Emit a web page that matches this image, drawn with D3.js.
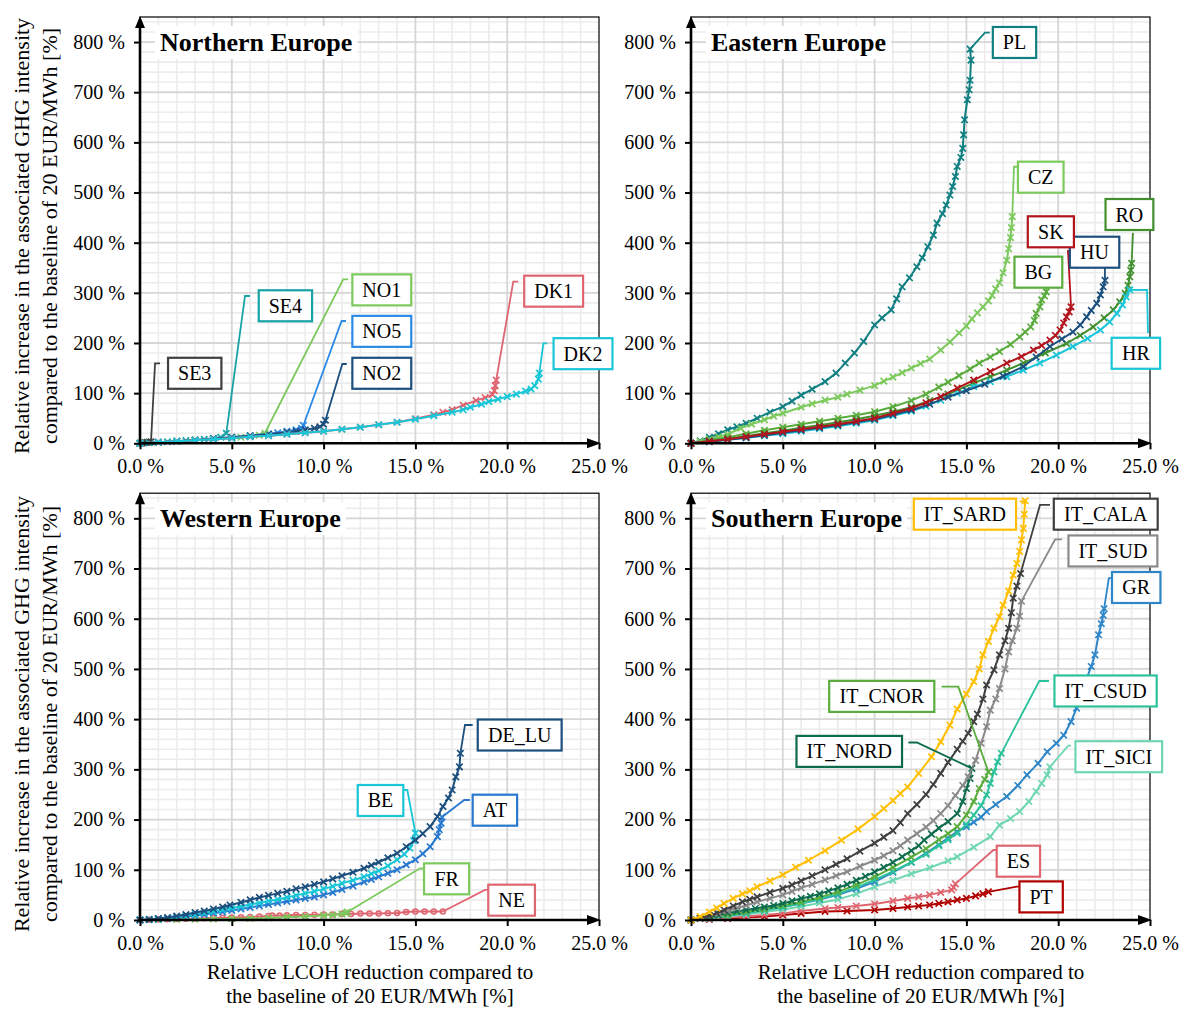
<!DOCTYPE html>
<html>
<head>
<meta charset="utf-8">
<script src="https://cdn.jsdelivr.net/npm/d3@7"></script>
<style>
  body { margin: 0; background: #fff; }
  svg { display: block; }
  text { font-family: "Liberation Serif", "Times New Roman", serif; fill: #000; }
</style>
</head>
<body>
<svg id="chart" width="1183" height="1010"></svg>
<script>
// ---------- axis ticks ----------
const xTicks = [0, 5, 10, 15, 20, 25];
const xTickLabels = ["0.0 %", "5.0 %", "10.0 %", "15.0 %", "20.0 %", "25.0 %"];
const yTicks = [0, 100, 200, 300, 400, 500, 600, 700, 800];
const yTickLabels = ["0 %", "100 %", "200 %", "300 %", "400 %", "500 %", "600 %", "700 %", "800 %"];

// ---------- Northern Europe: [LCOH reduction %, GHG increase %] ----------
const SE3 = [[0,0],[0.1,0.5],[0.2,1],[0.3,1.5],[0.4,2],[0.5,2.5],[0.6,3]];
const SE4 = [[0,0],[0.5,1],[1,2],[1.5,3],[2,4],[2.5,5.5],[3,7],[3.5,8],[4,10],[4.4,12],[4.7,20]];
const NO1 = [[0,0],[1,2],[2,4],[3,6],[4,8],[5,11],[5.5,12],[6,14],[6.5,16],[6.8,20]];
const NO5 = [[0,0],[1,2],[2,4],[3,6],[4,9],[5,12],[6,15],[7,19],[7.5,21],[8,24],[8.5,27],[8.8,30],[8.9,36]];
const NO2 = [[0,0],[1,2],[2,4],[3,6],[4,9],[5,12],[6,15],[7,18],[8,22],[8.5,24],[9,27],[9.5,30],[9.8,33],[10,38],[10.1,46]];
const DK1 = [[0,0],[1,2],[2,4],[3,6],[4,8],[5,10],[6,13],[7,15],[8,18],[9,21],[10,24],[11,28],[12,32],[13,37],[14,42],[15,49],[16,57],[16.5,62],[17,67],[17.6,76],[18.3,85],[18.8,91],[19.2,97],[19.3,105],[19.35,115],[19.4,126]];
const DK2 = [[0,0],[1,2],[2,4],[3,6],[4,8],[5,10],[6,13],[7,15],[8,18],[9,21],[10,24],[11,28],[12,32],[13,37],[14,42],[15,48],[16,55],[17,62],[17.6,67],[18,72],[18.6,78],[19,83],[19.5,88],[20,93],[20.5,98],[21,104],[21.3,108],[21.5,115],[21.7,128],[21.75,140]];

// ---------- Eastern Europe ----------
const PL = [[0,0],[0.5,5],[1,12],[1.5,19],[2,27],[2.5,33],[3,40],[3.6,50],[4.3,62],[5,73],[5.5,84],[6,96],[6.6,108],[7.3,123],[7.9,140],[8.4,160],[8.9,180],[9.4,203],[10,236],[10.4,250],[10.9,266],[11.2,288],[11.5,312],[11.9,330],[12.3,352],[12.6,370],[12.9,392],[13.2,415],[13.4,439],[13.7,458],[13.9,475],[14.1,495],[14.25,512],[14.4,532],[14.5,552],[14.7,570],[14.8,588],[14.85,615],[14.9,645],[15.05,685],[15.15,705],[15.2,724],[15.25,764],[15.2,786]];
const CZ = [[0,0],[0.5,4],[1,8],[1.5,13],[2,18],[2.7,30],[3.3,38],[4,47],[4.5,54],[5,60],[6,72],[6.6,79],[7.3,86],[8,92],[8.5,98],[9.2,106],[10,115],[10.5,124],[11,132],[11.5,141],[12,150],[12.5,159],[13,168],[13.6,186],[14.1,202],[14.6,220],[15,234],[15.3,248],[15.6,260],[15.9,272],[16.2,284],[16.4,295],[16.6,308],[16.8,320],[17,340],[17.2,365],[17.3,388],[17.4,410],[17.45,430],[17.5,452]];
const BG = [[0,0],[1,6],[2,12],[3,19],[4,26],[5,32],[6,38],[7,44],[8,50],[9,56],[10,63],[11,73],[12,85],[12.8,98],[13.5,112],[14,122],[14.6,135],[15.2,148],[15.7,160],[16.3,172],[16.8,183],[17.4,197],[17.9,212],[18.2,222],[18.5,232],[18.7,245],[18.8,259],[19,272],[19.1,286],[19.25,294],[19.35,302]];
const SK = [[0,0],[1,4],[2,8],[3,13],[4,18],[5,23],[6,28],[7,33],[8,38],[9,44],[10,50],[11,60],[12,70],[12.8,81],[13.6,93],[14.5,110],[15.4,126],[16.3,143],[17.2,160],[18,173],[18.65,186],[19.1,195],[19.55,206],[19.85,215],[20.1,226],[20.3,240],[20.45,252],[20.6,262],[20.7,272]];
const HU = [[0,0],[1,3],[2,7],[3,11],[4,16],[5,21],[6,26],[7,31],[8,36],[9,42],[10,48],[11,57],[12,66],[13,78],[14,92],[15,105],[16,118],[17,134],[18.1,153],[18.8,172],[19.55,193],[20.2,208],[20.8,222],[21.2,236],[21.55,252],[21.8,265],[22.1,279],[22.3,296],[22.45,312],[22.55,325]];
const RO = [[0,0],[1,4],[2,9],[3,14],[4,20],[5,25],[6,31],[7,36],[8,42],[9,48],[10,55],[11,63],[12,72],[13,85],[14,98],[15.4,120],[16.3,133],[17.2,146],[18.1,160],[19.3,180],[20.45,199],[21.2,215],[21.9,232],[22.5,250],[23,266],[23.35,282],[23.65,299],[23.8,315],[23.9,332],[23.95,345],[24,359]];
const HR = [[0,0],[1,3],[2,7],[3,11],[4,15],[5,19],[6,24],[7,29],[8,34],[9,40],[10,46],[11,55],[12,64],[12.8,74],[13.6,86],[14.5,100],[15.4,113],[16.3,123],[17.2,133],[18.1,146],[19,160],[19.9,176],[20.8,193],[21.6,209],[22.3,226],[22.8,242],[23.2,259],[23.5,276],[23.7,292],[23.9,306]];

// ---------- Western Europe ----------
const DE_LU = [[0,0],[0.5,1],[1,3],[1.5,5],[2,8],[2.5,11],[3,15],[3.5,18],[4,22],[4.5,26],[4.9,30],[5.5,35],[6,40],[6.5,45],[7,49],[7.5,53],[8,57],[8.5,62],[9,66],[9.5,71],[10,76],[10.5,82],[11,88],[11.6,95],[12.2,103],[12.6,109],[13,115],[13.5,124],[14,133],[14.5,146],[15,159],[15.4,172],[15.8,186],[16.2,206],[16.5,226],[16.8,243],[17,259],[17.2,285],[17.4,305],[17.45,332]];
const BE = [[0,0],[0.5,1],[1,2],[1.5,4],[2,6],[2.5,8],[3,11],[3.5,14],[4,17],[4.5,20],[5,24],[5.5,27],[6,31],[6.5,34],[7,38],[7.5,41],[8,45],[8.5,49],[9,53],[9.5,57],[10,62],[10.5,67],[11,73],[11.6,79],[12.2,86],[12.6,92],[13,98],[13.5,108],[14,120],[14.4,131],[14.7,143],[14.9,158],[15,173]];
const AT = [[0,0],[0.5,1],[1,2],[1.5,3],[2,5],[2.5,7],[3,9],[3.5,11],[4,14],[4.5,16],[5,19],[5.5,22],[6,25],[6.5,28],[7,31],[7.5,34],[8,37],[8.5,40],[9,43],[9.5,46],[10,50],[10.5,55],[11,61],[11.6,68],[12.2,76],[12.6,81],[13,86],[13.5,93],[14,100],[14.5,110],[15,120],[15.4,132],[15.8,146],[16.2,166],[16.3,180],[16.4,193],[16.45,205]];
const FR = [[0,0],[1,0.5],[2,1],[3,1.5],[4,2],[5,2.5],[6,3],[7,4],[8,6],[9,7],[10,9],[10.5,10],[11,12],[11.2,14],[11.3,16]];
const NE = [[0,0],[0.5,0.5],[1,1],[1.5,1.5],[2,2],[2.5,2.5],[3,3],[3.5,3.5],[4,4],[4.5,4.5],[5,5],[5.5,5.5],[6,6],[6.5,7],[7,8],[7.2,9],[7.6,9],[8,9.5],[8.5,10],[9,10],[9.5,10.5],[10,11],[10.5,11],[11,12],[11.5,12],[12,13],[12.5,13],[13,13],[13.5,13.5],[14,14],[14.5,16],[15,17],[15.5,17],[16,17],[16.5,17]];

// ---------- Southern Europe ----------
const IT_SARD = [[0,0],[0.5,7],[1,16],[1.4,24],[1.8,33],[2.3,43],[2.8,52],[3.2,58],[3.6,66],[4.3,78],[5,90],[5.7,105],[6.4,119],[7.3,138],[8.2,159],[9.1,181],[10,206],[10.5,222],[11,238],[11.4,252],[11.8,265],[12.4,292],[13.1,325],[13.6,355],[14.1,388],[14.5,420],[15,450],[15.4,475],[15.7,500],[15.9,528],[16.2,555],[16.5,581],[16.8,604],[17,627],[17.3,655],[17.55,687],[17.75,710],[17.9,734],[18,757],[18.1,780],[18.15,808],[18.2,835]];
const IT_CALA = [[0,0],[0.5,4],[1,9],[1.4,14],[1.8,20],[2.3,28],[2.8,36],[3.2,41],[3.6,46],[4.3,55],[5,63],[5.5,70],[6,78],[6.6,88],[7.3,100],[7.9,111],[8.5,122],[9.2,137],[10,153],[10.5,165],[11,178],[11.4,194],[11.8,212],[12.3,230],[12.8,250],[13.2,270],[13.6,292],[14,314],[14.5,340],[14.8,356],[15.1,372],[15.4,395],[15.6,410],[15.9,440],[16.1,468],[16.5,498],[16.8,528],[17.1,556],[17.3,581],[17.45,612],[17.55,641],[17.75,665],[17.95,690]];
const IT_SUD = [[0,0],[0.5,3],[1,8],[1.5,13],[2,18],[2.5,24],[3,29],[3.6,36],[4.3,43],[5,50],[5.5,57],[6,64],[6.6,71],[7.3,80],[7.9,88],[8.5,96],[9.2,107],[10,119],[10.5,128],[11,138],[11.4,148],[11.8,159],[12.3,172],[12.8,185],[13.2,198],[13.6,212],[14,228],[14.4,248],[14.8,268],[15.1,285],[15.5,318],[15.8,352],[16.1,385],[16.3,418],[16.6,440],[16.8,461],[17.1,500],[17.3,534],[17.5,556],[17.75,581],[17.9,605],[18,635]];
const IT_NORD = [[0,0],[0.5,3],[1,6],[1.5,10],[2,14],[2.5,17],[3,20],[3.5,23],[4,26],[4.5,29],[5,33],[5.5,38],[6,43],[6.5,47],[7,52],[7.5,58],[8,64],[8.5,71],[9,79],[9.5,87],[10,96],[10.5,105],[11,115],[11.5,126],[12,138],[12.4,148],[12.7,159],[13.1,171],[13.5,183],[14,196],[14.5,212],[14.8,236],[15,262],[15.2,282],[15.3,302]];
const IT_CNOR = [[0,0],[1,5],[2,10],[3,16],[4,22],[5,29],[6,36],[7,45],[8,56],[9,70],[10,86],[11,105],[12,125],[12.8,142],[13.5,160],[14,172],[14.5,186],[15,209],[15.4,236],[15.7,262],[16,280],[16.2,295]];
const IT_CSUD = [[0,0],[1,4],[2,9],[3,14],[4,20],[5,26],[6,33],[7,42],[8,52],[9,65],[10,80],[11,97],[12,115],[12.8,131],[13.5,148],[14,160],[14.5,173],[15,190],[15.4,209],[15.8,228],[16.1,249],[16.3,272],[16.5,295],[16.7,315],[16.9,332]];
const GR = [[0,0],[1,4],[2,9],[3,14],[4,20],[5,26],[6,33],[7,41],[8,50],[9,62],[10,76],[11,95],[12,115],[12.8,133],[13.5,150],[14,163],[14.5,176],[15,186],[15.4,195],[15.8,205],[16.1,216],[16.6,230],[17.2,246],[17.8,268],[18.3,289],[18.9,312],[19.4,335],[19.9,352],[20.3,368],[20.7,395],[21,422],[21.3,450],[21.55,481],[21.8,505],[22,528],[22.2,568],[22.35,590],[22.45,607],[22.5,620]];
const IT_SICI = [[0,0],[1,3],[2,7],[3,11],[4,16],[5,21],[6,27],[7,34],[8,41],[9,52],[10,66],[11,79],[12,92],[13,104],[14,118],[14.5,126],[15.4,145],[16.3,166],[16.8,189],[17.4,202],[17.9,216],[18.4,236],[18.8,256],[19.1,272],[19.4,289],[19.55,305]];
const ES = [[0,0],[1,2],[2,5],[3,7],[4,10],[5,13],[6,18],[7.3,23],[8,25],[9,28],[10,32],[11,38],[11.8,43],[12.4,46],[13,50],[13.6,55],[14.2,60],[14.3,65],[14.4,72]];
const PT = [[0,0],[1,1],[2,3],[3,5],[4,7],[5,10],[6,13],[7.3,17],[8.5,18],[10,20],[11,23],[11.8,26],[12.4,28],[13,30],[13.5,33],[14,36],[14.5,40],[15,43],[15.5,48],[15.9,52],[16.2,56]];

// ---------- colours ----------
const colors = {
  SE3: "#3f3f3f", SE4: "#17a3a6", NO1: "#7cc95c", NO5: "#2b8ae6", NO2: "#1c4f7d",
  DK1: "#df6570", DK2: "#18c6d8",
  PL: "#0f7f82", CZ: "#7cc95c", SK: "#b3141c", HU: "#1c4f7d", BG: "#5aac3c", RO: "#418f2e", HR: "#18c6d8",
  DE_LU: "#1c4f7d", BE: "#18c6d8", AT: "#2878cf", FR: "#7cc95c", NE: "#df6570",
  IT_SARD: "#ffbf00", IT_CALA: "#3f3f3f", IT_SUD: "#8a8a8a", IT_NORD: "#0d6b4e", IT_CNOR: "#5aac3c",
  IT_CSUD: "#2cc29c", GR: "#2e86c8", IT_SICI: "#6fd7b0", ES: "#df6570", PT: "#b00000"
};

// ---------- label callouts: box centre and leader bends in data units ----------
const callouts = {
  SE3: { box: [2.98, 139.6], bend: [[0.82, 159.5], [1.09, 159.5]] },
  SE4: { box: [7.92, 274.2], bend: [[5.72, 293.7], [5.99, 293.7]] },
  NO1: { box: [13.17, 305.9], bend: [[11.07, 327], [11.34, 327]] },
  NO5: { box: [13.17, 223.2], bend: [[10.98, 243.9], [11.22, 243.9]] },
  NO2: { box: [13.17, 139.6], bend: [[11.02, 158.1], [11.26, 158.1]] },
  DK1: { box: [22.53, 303.3], bend: [[20.33, 322.2], [20.6, 322.2]] },
  DK2: { box: [24.13, 178.7], bend: [[21.97, 199.4], [22.18, 199.4]] },
  PL:  { box: [17.62, 799.2], bend: [[16.01, 818.7], [16.27, 818.7]] },
  CZ:  { box: [19.05, 530.6], bend: [[17.59, 551.4], [17.81, 551.4]] },
  BG:  { box: [18.92, 341.2], bend: [[19.36, 309.7]] },
  SK:  { box: [19.6, 421.7], bend: [[20.53, 385.6]] },
  HU:  { box: [21.98, 381], bend: [[22.54, 350]] },
  RO:  { box: [23.88, 456.2], bend: [[24.07, 419.6]] },
  HR:  { box: [24.23, 179.5], bend: [[24.84, 305.7], [24.89, 219.9]] },
  DE_LU: { box: [20.68, 368.4], bend: [[17.7, 388.4], [18.12, 388.4]] },
  AT:  { box: [19.33, 218.7], bend: [[17.66, 239], [17.97, 239]] },
  BE:  { box: [13.1, 238], bend: [[14.56, 258.9], [14.38, 258.9]] },
  FR:  { box: [16.7, 82], bend: [[15.25, 103], [15.52, 103]] },
  NE:  { box: [20.24, 39.5], bend: [[18.79, 59.8], [19.06, 59.8]] },
  IT_SARD: { box: [14.92, 808.2], bend: [[17.9, 833]] },
  IT_CALA: { box: [22.59, 808.2], bend: [[19.01, 826.9], [19.55, 826.9]] },
  IT_SUD:  { box: [22.98, 735], bend: [[19.83, 757.9], [20.21, 757.9]] },
  GR:      { box: [24.25, 662.2], bend: [[22.76, 680.7], [22.98, 680.7]] },
  IT_CSUD: { box: [22.58, 456.1], bend: [[18.97, 476], [19.5, 476]] },
  IT_CNOR: { box: [10.39, 445.3], bend: [[14.56, 464.8], [13.65, 464.8]] },
  IT_NORD: { box: [8.62, 335.8], bend: [[12.3, 353.5], [11.84, 353.5]] },
  IT_SICI: { box: [23.3, 325.2], bend: [[20.55, 347.3], [20.7, 347.3]] },
  ES:      { box: [17.83, 117.1], bend: [[16.47, 139.4], [16.67, 139.4]] },
  PT:      { box: [19.07, 46], bend: [[17.74, 66.3], [17.9, 66.3]] }
};

const panels = [
  { title: "Northern Europe", left: 140, right: 599, top: 17, bottom: 443.3,
    series: { SE3, SE4, NO1, NO5, NO2, DK1, DK2 } },
  { title: "Eastern Europe", left: 691, right: 1150, top: 17, bottom: 443.3,
    series: { PL, CZ, BG, RO, HR, HU, SK } },
  { title: "Western Europe", left: 140, right: 599, top: 493.2, bottom: 920,
    series: { NE, FR, AT, BE, DE_LU } },
  { title: "Southern Europe", left: 691, right: 1150, top: 493.2, bottom: 920,
    series: { PT, ES, IT_SICI, GR, IT_CSUD, IT_CNOR, IT_NORD, IT_SUD, IT_CALA, IT_SARD } }
];

const svg = d3.select("#chart");
const X_MAX = 25, Y_MAX = 850;

function drawPanel(p) {
  const g = svg.append("g");
  const x = d3.scaleLinear().domain([0, X_MAX]).range([p.left, p.right]);
  const y = d3.scaleLinear().domain([0, Y_MAX]).range([p.bottom, p.top]);

  // minor grid
  const grid = g.append("g");
  d3.range(1, X_MAX, 1).filter(v => v % 5 !== 0).forEach(v => {
    grid.append("line").attr("x1", x(v)).attr("x2", x(v)).attr("y1", y(0)).attr("y2", y(Y_MAX))
      .attr("stroke", "#ececec").attr("stroke-width", 1.6);
  });
  d3.range(20, Y_MAX, 20).filter(v => v % 100 !== 0).forEach(v => {
    grid.append("line").attr("x1", x(0)).attr("x2", x(X_MAX)).attr("y1", y(v)).attr("y2", y(v))
      .attr("stroke", "#ececec").attr("stroke-width", 1.6);
  });
  // major grid
  xTicks.slice(1, -1).forEach(v => {
    grid.append("line").attr("x1", x(v)).attr("x2", x(v)).attr("y1", y(0)).attr("y2", y(Y_MAX))
      .attr("stroke", "#d6d6d6").attr("stroke-width", 1.8);
  });
  yTicks.slice(1).forEach(v => {
    grid.append("line").attr("x1", x(0)).attr("x2", x(X_MAX)).attr("y1", y(v)).attr("y2", y(v))
      .attr("stroke", "#d6d6d6").attr("stroke-width", 1.8);
  });

  // plot frame
  g.append("rect").attr("x", x(0)).attr("y", y(Y_MAX))
    .attr("width", x(X_MAX) - x(0)).attr("height", y(0) - y(Y_MAX))
    .attr("fill", "none").attr("stroke", "#000").attr("stroke-width", 1.2);

  // series
  const line = d3.line().x(d => x(d[0])).y(d => y(d[1]));
  Object.entries(p.series).forEach(([name, data]) => {
    const c = colors[name];
    const sg = g.append("g");
    sg.append("path").attr("d", line(data)).attr("fill", "none")
      .attr("stroke", c).attr("stroke-width", 2).attr("stroke-linejoin", "round");
    if (name === "NE") {
      sg.selectAll("circle").data(data).join("circle")
        .attr("cx", d => x(d[0])).attr("cy", d => y(d[1])).attr("r", 2.5)
        .attr("fill", "none").attr("stroke", c).attr("stroke-width", 1.5);
    } else {
      sg.selectAll("path.m").data(data).join("path").attr("class", "m")
        .attr("transform", d => `translate(${x(d[0])},${y(d[1])})`)
        .attr("d", "M-3.2,-3.2L3.2,3.2M-3.2,3.2L3.2,-3.2")
        .attr("stroke", c).attr("stroke-width", 1.7).attr("fill", "none");
    }
  });

  // axes
  const yAxis = d3.axisLeft(y).tickValues(yTicks).tickSize(6).tickPadding(9)
    .tickFormat((d, i) => yTickLabels[i]);
  const ya = g.append("g").attr("transform", `translate(${x(0)},0)`).call(yAxis);
  ya.select(".domain").remove();
  ya.selectAll(".tick line").attr("stroke", "#000").attr("stroke-width", 2);
  ya.selectAll("text").style("font-family", '"Liberation Serif", serif').style("font-size", "20px").attr("fill", "#000");

  const xAxis = d3.axisBottom(x).tickValues(xTicks).tickSize(6).tickPadding(10)
    .tickFormat((d, i) => xTickLabels[i]);
  const xa = g.append("g").attr("transform", `translate(0,${y(0)})`).call(xAxis);
  xa.select(".domain").remove();
  xa.selectAll(".tick line").attr("stroke", "#000").attr("stroke-width", 2);
  xa.selectAll("text").style("font-family", '"Liberation Serif", serif').style("font-size", "20px").attr("fill", "#000");

  // axis lines with arrows
  g.append("line").attr("x1", x(0)).attr("x2", x(0)).attr("y1", y(0) + 1).attr("y2", y(Y_MAX) + 6)
    .attr("stroke", "#000").attr("stroke-width", 2.6);
  g.append("path").attr("d", `M${x(0)},${y(Y_MAX) - 1}L${x(0) - 5},${y(Y_MAX) + 11}L${x(0) + 5},${y(Y_MAX) + 11}Z`)
    .attr("fill", "#000");
  g.append("line").attr("x1", x(0) - 1).attr("x2", x(X_MAX) - 6).attr("y1", y(0)).attr("y2", y(0))
    .attr("stroke", "#000").attr("stroke-width", 2.6);
  g.append("path").attr("d", `M${x(X_MAX) + 2},${y(0)}L${x(X_MAX) - 12},${y(0) - 5}L${x(X_MAX) - 12},${y(0) + 5}Z`)
    .attr("fill", "#000");

  // panel title
  const tg = g.append("g");
  const tBox = tg.append("rect").attr("fill", "#fff");
  const tt = tg.append("text").attr("x", x(0) + 20).attr("y", y(Y_MAX) + 34)
    .style("font-size", "26px").style("font-weight", "bold").text(p.title);
  const bb = tt.node().getBBox();
  tBox.attr("x", bb.x - 5).attr("y", bb.y - 2).attr("width", bb.width + 10).attr("height", bb.height + 4);

  // callouts
  Object.keys(p.series).forEach(name => {
    const co = callouts[name];
    if (!co) return;
    const data = p.series[name];
    const c = colors[name];
    const pts = [data[data.length - 1]].concat(co.bend);
    g.append("path").attr("d", d3.line().x(d => x(d[0])).y(d => y(d[1]))(pts))
      .attr("fill", "none").attr("stroke", c).attr("stroke-width", 1.8);
  });
  Object.keys(p.series).forEach(name => {
    const co = callouts[name];
    if (!co) return;
    const c = colors[name];
    const lg = g.append("g");
    const r = lg.append("rect").attr("fill", "#fff").attr("stroke", c).attr("stroke-width", 2.2);
    const t = lg.append("text").attr("x", x(co.box[0])).attr("y", y(co.box[1]) + 7)
      .attr("text-anchor", "middle").style("font-size", "20px").text(name);
    const b = t.node().getBBox();
    const w = b.width + 20, h = 31;
    r.attr("x", x(co.box[0]) - w / 2).attr("y", y(co.box[1]) - h / 2).attr("width", w).attr("height", h);
  });
}

panels.forEach(drawPanel);

// axis titles
function yTitle(cx, cy) {
  const t = svg.append("text").attr("transform", `translate(${cx},${cy}) rotate(-90)`)
    .attr("text-anchor", "middle").style("font-size", "22px");
  t.append("tspan").attr("x", 0).attr("dy", 0).text("Relative increase in the associated GHG intensity");
  t.append("tspan").attr("x", 0).attr("dy", 28).text("compared to the baseline of 20 EUR/MWh [%]");
}
yTitle(29, 236);
yTitle(29, 714);

function xTitle(cx, cy) {
  const t = svg.append("text").attr("text-anchor", "middle").style("font-size", "21px");
  t.append("tspan").attr("x", cx).attr("y", cy).text("Relative LCOH reduction compared to");
  t.append("tspan").attr("x", cx).attr("y", cy + 24).text("the baseline of 20 EUR/MWh [%]");
}
xTitle(370, 979);
xTitle(921, 979);
</script>
</body>
</html>
